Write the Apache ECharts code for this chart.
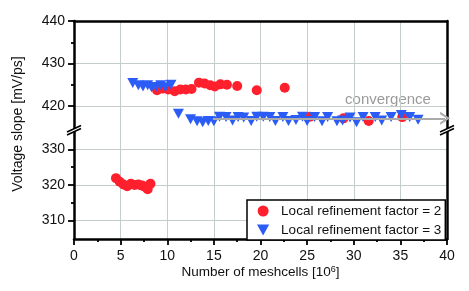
<!DOCTYPE html>
<html><head><meta charset="utf-8">
<script src="https://cdn.jsdelivr.net/npm/echarts@6/dist/echarts.min.js"></script>
<style>html,body{margin:0;padding:0;background:#fff}#c{width:469px;height:291px}</style>
</head><body><div id="c"></div>
<script>
// ---- data ----
const seriesNames = ['Local refinement factor = 2', 'Local refinement factor = 3'];
// factor 2, lower (~320) cluster
const red2LowX = [4.5, 4.9, 5.3, 5.7, 6.1, 6.5, 6.9, 7.3, 7.6, 7.9, 8.2];
const red2LowY = [321.9, 320.9, 320.1, 319.6, 320.3, 320.0, 320.1, 319.8, 319.5, 318.8, 320.3];
// factor 2, upper (~420) part
const red2UpX = [8.9, 9.5, 10.1, 10.8, 11.4, 12.0, 12.6, 13.4, 14.0, 14.6, 15.1, 15.7, 16.4, 17.5, 19.6, 22.6, 25.3, 28.9, 31.6, 35.2];
const red2UpY = [423.7, 424.1, 423.9, 423.5, 423.9, 423.9, 424.0, 425.5, 425.3, 424.9, 424.6, 425.1, 425.0, 424.7, 423.7, 424.3, 417.5, 417.1, 416.5, 417.4];
// factor 3
const blue3X = [6.3, 6.9, 7.4, 7.9, 8.3, 8.8, 9.3, 9.8, 10.4,
  11.2, 12.5, 13.2, 13.8, 14.4, 15.0, 15.6, 16.3, 17.0, 17.6, 18.2, 19.0, 19.6, 20.3, 21.0, 21.6, 22.4, 23.0, 23.8, 24.5, 25.0, 25.8, 26.6, 27.2, 28.2, 28.8, 29.6, 30.3, 31.0, 32.3, 33.0, 34.0, 35.1, 36.0, 36.9];
const blue3Y = [425.4, 424.9, 424.6, 424.9, 424.4, 424.5, 424.9, 424.4, 425.0,
  418.2, 416.9, 416.4, 416.2, 416.5, 416.4, 417.5, 417.4, 416.6, 417.4, 417.3, 416.5, 417.5, 417.5, 417.4, 416.5, 417.4, 416.5, 416.7, 417.5, 416.5, 417.4, 416.4, 417.4, 416.4, 416.6, 417.3, 416.2, 417.4, 417.4, 416.6, 417.4, 417.9, 417.4, 416.8];
// tick values
const xTicks = [0, 5, 10, 15, 20, 25, 30, 35, 40];
const yUpperMajor = [420, 430, 440];
const yUpperMinor = [425, 435];
const yLowerMajor = [310, 320, 330];
const yLowerMinor = [315, 325];
const yUpperRange = [414.6, 440];
const yLowerRange = [304.8, 335.7];
// convergence annotation (x from, x to, y)
const convergenceX = [14.9, 39.8];
const convergenceY = 417.1;

const zip = (xs, ys) => xs.map((x, i) => [x, ys[i]]);
const RED = '#ff1f2d', BLUE = '#2b5cf5';
const TRI = 'path://M0,0 L10,0 L5,9 Z';
const CHEV = 'path://M0,10 L5,0 L10,10 L8.2,10 L5,3.6 L1.8,10 Z';
const FONT = 'Liberation Sans, Arial, sans-serif';
const GRIDC = '#c5cdcc';
const AXW = 2.5;

const chart = echarts.init(document.getElementById('c'), null, {renderer: 'canvas'});
const yMajor = (gi, vals, range) => ({
  gridIndex: gi, type: 'value', min: range[0], max: range[1], position: 'left',
  axisLine: {show: true, onZero: false, lineStyle: {color: '#000', width: AXW}},
  axisTick: {show: true, inside: false, length: 6, customValues: vals, lineStyle: {color: '#000', width: 1.8}},
  axisLabel: {show: true, customValues: vals, margin: 9, fontSize: 14, color: '#111', fontFamily: FONT},
  splitLine: {show: true, lineStyle: {color: GRIDC, width: 1}}
});
const yMinor = (gi, vals, range) => ({
  gridIndex: gi, type: 'value', min: range[0], max: range[1], position: 'left',
  axisLine: {show: false},
  axisTick: {show: true, length: 3, customValues: vals, lineStyle: {color: '#000', width: 1.8}},
  axisLabel: {show: false}, splitLine: {show: false}
});
const yRight = (gi, range) => ({
  gridIndex: gi, type: 'value', min: range[0], max: range[1], position: 'right',
  axisLine: {show: true, onZero: false, lineStyle: {color: '#000', width: AXW}},
  axisTick: {show: false}, axisLabel: {show: false}, splitLine: {show: false}
});

chart.setOption({
  animation: false,
  backgroundColor: '#fff',
  grid: [
    {left: 74, right: 22, top: 21, height: 108},
    {left: 74, right: 22, top: 129, height: 110}
  ],
  xAxis: [
    {gridIndex: 0, type: 'value', min: 0, max: 40, interval: 5, position: 'top',
      axisLine: {show: true, onZero: false, lineStyle: {color: '#000', width: AXW}},
      axisTick: {show: false}, axisLabel: {show: false},
      splitLine: {show: true, lineStyle: {color: GRIDC, width: 1}}},
    {gridIndex: 1, type: 'value', min: 0, max: 40, interval: 5, position: 'bottom',
      axisLine: {show: true, onZero: false, lineStyle: {color: '#000', width: AXW}},
      axisTick: {show: true, length: 6, lineStyle: {color: '#000', width: 1.8}},
      minorTick: {show: true, splitNumber: 2, length: 3, lineStyle: {color: '#000', width: 1.8}},
      axisLabel: {show: true, margin: 10, fontSize: 14, color: '#111', fontFamily: FONT,
        formatter: v => xTicks.includes(v) ? String(v) : ''},
      splitLine: {show: true, lineStyle: {color: GRIDC, width: 1}},
      name: '{a|Number of meshcells [10}{s|6}{a|]}', nameLocation: 'middle', nameGap: 26,
      nameTextStyle: {rich: {
        a: {fontSize: 13.5, color: '#111', fontFamily: FONT},
        s: {fontSize: 9, color: '#111', fontFamily: FONT, verticalAlign: 'top', padding: [0, 0, 6, 0]}
      }}}
  ],
  yAxis: [
    yMajor(0, yUpperMajor, yUpperRange),
    yMinor(0, yUpperMinor, yUpperRange),
    yRight(0, yUpperRange),
    yMajor(1, yLowerMajor, yLowerRange),
    yMinor(1, yLowerMinor, yLowerRange),
    yRight(1, yLowerRange)
  ],
  legend: {
    orient: 'vertical', left: 247, top: 200,
    backgroundColor: '#fff', borderColor: '#000', borderWidth: 1.5,
    padding: [4, 4, 3, 10], itemWidth: 26, itemHeight: 11, itemGap: 5,
    textStyle: {fontSize: 13.5, color: '#111', fontFamily: FONT},
    data: [{name: seriesNames[0], icon: 'circle'}, {name: seriesNames[1], icon: TRI}]
  },
  graphic: [
    {type: 'text', x: 18, y: 124, rotation: Math.PI / 2,
      style: {text: 'Voltage slope [mV/ps]', font: '14px ' + FONT, fill: '#111', align: 'center', verticalAlign: 'middle'}},
    {type: 'text', style: {text: 'convergence', font: '15px ' + FONT, fill: '#9a9a9a', align: 'center', verticalAlign: 'middle'},
      x: 388, y: 100},
    // axis break marks
    {type: 'polygon', shape: {points: [[67, 132], [81, 125.5], [81, 128.5], [67, 135]]}, style: {fill: '#fff'}, z: 10},
    {type: 'line', shape: {x1: 67, y1: 132, x2: 81, y2: 125.5}, style: {stroke: '#000', lineWidth: 1.6}, z: 11},
    {type: 'line', shape: {x1: 67, y1: 135, x2: 81, y2: 128.5}, style: {stroke: '#000', lineWidth: 1.6}, z: 11},
    {type: 'polygon', shape: {points: [[440, 132], [454, 125.5], [454, 128.5], [440, 135]]}, style: {fill: '#fff'}, z: 10},
    {type: 'line', shape: {x1: 440, y1: 132, x2: 454, y2: 125.5}, style: {stroke: '#000', lineWidth: 1.6}, z: 11},
    {type: 'line', shape: {x1: 440, y1: 135, x2: 454, y2: 128.5}, style: {stroke: '#000', lineWidth: 1.6}, z: 11}
  ],
  series: [
    {name: seriesNames[0], type: 'scatter', xAxisIndex: 1, yAxisIndex: 3, symbol: 'circle', symbolSize: 10,
      itemStyle: {color: RED, opacity: 1}, data: zip(red2LowX, red2LowY)},
    {name: seriesNames[0], type: 'scatter', xAxisIndex: 0, yAxisIndex: 0, symbol: 'circle', symbolSize: 10,
      itemStyle: {color: RED, opacity: 1}, data: zip(red2UpX, red2UpY)},
    {name: seriesNames[1], type: 'scatter', xAxisIndex: 0, yAxisIndex: 0, symbol: TRI, symbolSize: [11, 10],
      itemStyle: {color: BLUE, opacity: 1}, data: zip(blue3X, blue3Y),
      markLine: {silent: true, symbol: ['none', CHEV], symbolSize: [13, 10],
        lineStyle: {color: '#aaaaaa', width: 2, type: 'solid', opacity: 1}, label: {show: false},
        emphasis: {disabled: true},
        data: [[{coord: [convergenceX[0], convergenceY]}, {coord: [convergenceX[1], convergenceY]}]]}}
  ]
});
</script></body></html>
